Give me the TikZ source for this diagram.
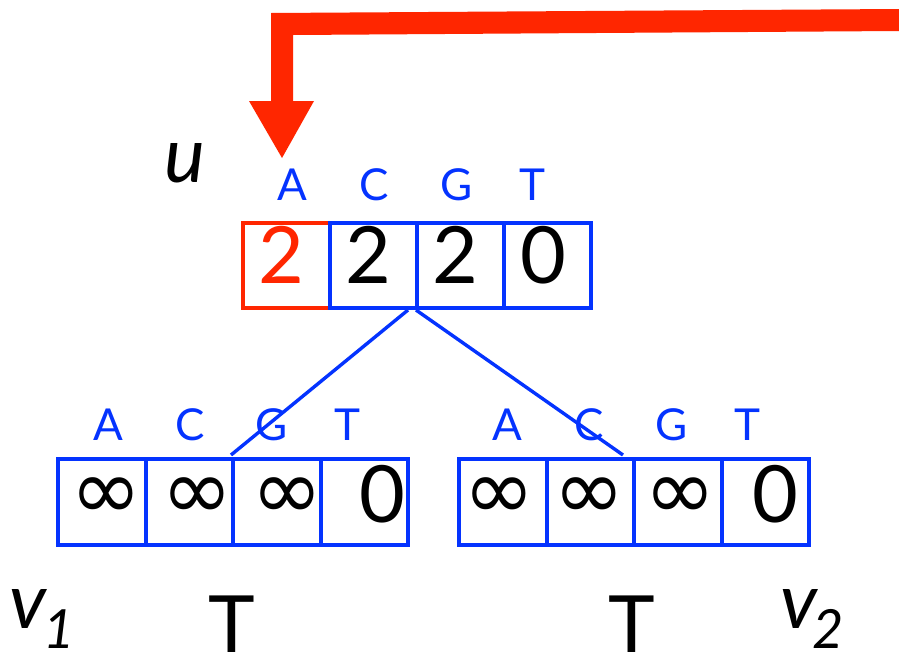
\documentclass[tikz,border=0pt]{standalone}
\usepackage{fontspec}
\setmainfont{Lato}
\newfontfamily\symfont{DejaVu Sans}
\usetikzlibrary{calc}
\definecolor{arrowred}{HTML}{FF2600}
\definecolor{cellblue}{HTML}{0433FF}
\tikzset{
  cell/.style={draw=cellblue, line width=4pt, minimum width=#1, minimum height=85pt,
               inner sep=0pt, anchor=north west},
  cell/.default=87pt,
  redcell/.style={cell, draw=arrowred},
  letterlab/.style={font=\fontsize{44}{44}\selectfont, text=cellblue, inner sep=0pt, anchor=base},
  numtext/.style={font=\fontsize{79}{79}\selectfont, inner sep=0pt, anchor=base},
  inftext/.style={font=\fontsize{86}{86}\symfont, inner sep=0pt, anchor=center},
  vertexname/.style={font=\fontsize{77}{77}\selectfont\itshape, inner sep=0pt, anchor=base},
  subtext/.style={font=\fontsize{54}{54}\selectfont\itshape, inner sep=0pt, anchor=base},
  treeline/.style={draw=cellblue, line width=3.4pt},
}
\begin{document}
\begin{tikzpicture}[x=1pt, y=-1pt]
\useasboundingbox (0,0) rectangle (899,651);
\fill[white] (0,0) rectangle (899,651);

% node u: four cells, the first one highlighted
\node[redcell] (u1) at (241,221) {};
\node[cell] (u2) at (328,221) {};
\node[cell] (u3) at (415,221) {};
\node[cell] (u4) at (502,221) {};
\node[numtext, text=arrowred] (u1v) at (281,283) {2};
\node[numtext] (u2v) at (368,283) {2};
\node[numtext] (u3v) at (455,283) {2};
\node[numtext] (u4v) at (543,283) {0};
\node[letterlab] (uA) at (292,200) {A};
\node[letterlab] (uC) at (374,200) {C};
\node[letterlab] (uG) at (457,200) {G};
\node[letterlab] (uT) at (532,200) {T};
\node[vertexname] (uname) at (185,182) {u};

% leaf v1
\node[cell=87.5pt, minimum height=86pt] (a1) at (56,457) {};
\node[cell=87.5pt, minimum height=86pt] (a2) at (143.5,457) {};
\node[cell=87.5pt, minimum height=86pt] (a3) at (231,457) {};
\node[cell=87.5pt, minimum height=86pt] (a4) at (318.5,457) {};
\node[inftext] (a1v) at (106,498.5) {∞};
\node[inftext] (a2v) at (197,498.5) {∞};
\node[inftext] (a3v) at (287,498.5) {∞};
\node[numtext] (a4v) at (382,522) {0};
\node[letterlab] (aA) at (108,440) {A};
\node[letterlab] (aC) at (190,440) {C};
\node[letterlab] (aG) at (272,440) {G};
\node[letterlab] (aT) at (347,440) {T};
\node[vertexname] (aname) at (28,628) {v};
\node[subtext] (asub) at (59,648) {1};
\node[numtext] (achar) at (232,652) {T};

% leaf v2
\node[cell=87.5pt, minimum height=86pt] (b1) at (457,457) {};
\node[cell=87.5pt, minimum height=86pt] (b2) at (544.5,457) {};
\node[cell=87.5pt, minimum height=86pt] (b3) at (632,457) {};
\node[cell=87.5pt, minimum height=86pt] (b4) at (719.5,457) {};
\node[inftext] (b1v) at (499,498.5) {∞};
\node[inftext] (b2v) at (589,498.5) {∞};
\node[inftext] (b3v) at (680,498.5) {∞};
\node[numtext] (b4v) at (775,522) {0};
\node[letterlab] (bA) at (507,440) {A};
\node[letterlab] (bC) at (589,440) {C};
\node[letterlab] (bG) at (672,440) {G};
\node[letterlab] (bT) at (747,440) {T};
\node[vertexname] (bname) at (799,628) {v};
\node[subtext] (bsub) at (828,648) {2};
\node[numtext] (bchar) at (632,652) {T};

% tree edges
\coordinate (eL) at ($(u2.south east)+(-11,0)$);
\coordinate (eR) at ($(u3.south west)+(1,0)$);
\coordinate (tL) at ($(a3.north west)+(0,-2)$);
\coordinate (tR) at ($(b2.north east)+(-13,-2)$);
\draw[treeline] (eL) -- (tL);
\draw[treeline] (eR) -- (tR);

% fat arrow coming in from the right and pointing at cell A of u
\coordinate (tip) at (282,158);
\fill[arrowred] (899,9) -- (271,13) -- (271,101) -- (249,101) -- (tip)
  -- (314,101) -- (293,101) -- (293,35) -- (899,31) -- cycle;
\end{tikzpicture}
\end{document}
